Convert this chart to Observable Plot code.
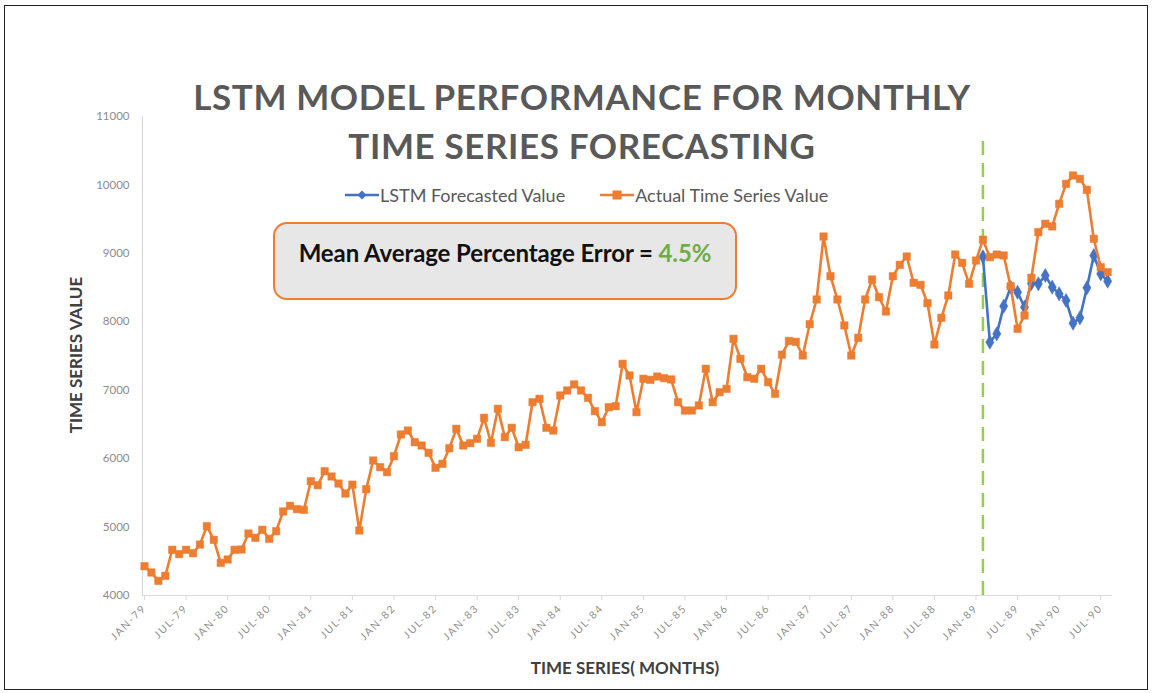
<!DOCTYPE html>
<html><head><meta charset="utf-8">
<script src="https://cdn.jsdelivr.net/npm/d3@7"></script>
<script src="https://cdn.jsdelivr.net/npm/@observablehq/plot@0.6"></script>
<style>
body{margin:0;background:#fff;font-family:Lato,"Open Sans",sans-serif;}
#wrap{position:relative;width:1154px;height:693px;overflow:hidden;background:#fff;}
#chart{position:absolute;left:0;top:0;}
#frame{position:absolute;left:4px;top:5px;width:1144px;height:685px;border:1.5px solid #222;box-sizing:border-box;pointer-events:none;}
#title{position:absolute;left:0;width:1164px;top:72px;text-align:center;font:700 35px/49px Lato,sans-serif;color:#595959;letter-spacing:0.6px;}
#legend{position:absolute;top:184px;left:345px;font:400 18px Lato,sans-serif;color:#595959;display:flex;align-items:center;white-space:nowrap;}
#legend .item{display:flex;align-items:center;margin-right:35px;}
#legend svg{margin-right:1px;}
#box{position:absolute;left:273px;top:222px;width:464px;height:78px;box-sizing:border-box;border:2px solid #ED7D31;border-radius:14px;background:#e8e7e7;text-align:center;font:700 24px Lato,sans-serif;color:#111;padding-top:14px;letter-spacing:-0.1px;}
#box span{color:#70AD47;}
#ytitle{position:absolute;left:75px;top:355px;transform:translate(-50%,-50%) rotate(-90deg);font:700 17px Lato,sans-serif;color:#404040;white-space:nowrap;}
#xtitle{position:absolute;left:625px;top:667px;transform:translate(-50%,-50%);font:700 17px Lato,sans-serif;color:#404040;white-space:nowrap;}
g[aria-label="x-axis tick label"] text{letter-spacing:1.6px;}
</style>
</head><body>
<div id="wrap">
  <div id="chart"></div>
  <div id="title">LSTM MODEL PERFORMANCE FOR MONTHLY<br>TIME SERIES FORECASTING</div>
  <div id="legend"></div>
  <div id="box">Mean Average Percentage Error = <span>4.5%</span></div>
  <div id="ytitle">TIME SERIES VALUE</div>
  <div id="xtitle">TIME SERIES( MONTHS)</div>
  <div id="frame"></div>
</div>
<script>
// ---- data ----
const monthNames = ["JAN","FEB","MAR","APR","MAY","JUN","JUL","AUG","SEP","OCT","NOV","DEC"];
const startYear = 79; // JAN-79 is month index 0
const actualValues = [
  4428,4336,4214,4287,4668,4604,4668,4618,4745,5013,4814,4477,
  4526,4668,4672,4906,4843,4960,4828,4940,5228,5311,5262,5252,
  5670,5612,5816,5739,5636,5490,5620,4950,5554,5973,5875,5802,
  6036,6353,6411,6240,6192,6085,5866,5924,6153,6436,6192,6226,
  6290,6597,6231,6728,6314,6451,6167,6202,6825,6874,6451,6411,
  6923,6996,7085,6996,6889,6694,6533,6752,6767,7386,7215,6679,
  7167,7152,7200,7176,7157,6825,6703,6703,6777,7313,6825,6971,
  7020,7751,7459,7190,7167,7313,7118,6947,7520,7720,7707,7507,
  7965,8326,9246,8666,8326,7946,7507,7766,8326,8618,8359,8150,
  8666,8832,8954,8570,8540,8272,7668,8058,8384,8983,8862,8555,
  8895,9200,8944,8983,8969,8520,7897,8092,8643,9310,9432,9393,
  9724,10016,10138,10089,9929,9213,8798,8725
];
const forecastStart = 121; // FEB-89
const forecastValues = [
  8950,7702,7824,8228,8506,8432,8213,8560,8555,8676,8506,8409,
  8311,7980,8058,8496,8969,8701,8593
];
const yTicks = [4000,5000,6000,7000,8000,9000,10000,11000];
const xTickStep = 6;
const splitTop = 10720;
const seriesNames = ["LSTM Forecasted Value","Actual Time Series Value"];
const colors = {forecast:"#4472C4", actual:"#ED7D31", split:"#92D050"};

// ---- tables ----
const actual = actualValues.map((v,i)=>({m:i, v}));
const forecast = forecastValues.map((v,i)=>({m:forecastStart+i, v}));
const xTicks = d3.range(0, actualValues.length, xTickStep);
const fmtMonth = i => monthNames[i%12] + "-" + String(startYear + Math.floor(i/12)).padStart(2,"0");
const xDomain = [-0.29, actualValues.length - 0.3];

const chart = Plot.plot({
  width:1154, height:693,
  marginLeft:142, marginRight:42, marginTop:116, marginBottom:98,
  x:{type:"linear", domain:xDomain},
  y:{domain:[yTicks[0], yTicks[yTicks.length-1]]},
  style:{background:"transparent", fontFamily:"Lato, sans-serif"},
  marks:[
    Plot.ruleY([yTicks[0]], {stroke:"#d9d9d9", strokeWidth:1.2}),
    Plot.ruleX([xDomain[0]], {stroke:"#d9d9d9", strokeWidth:1.2}),
    Plot.axisX({ticks:xTicks, tickFormat:fmtMonth, tickRotate:-45, tickSize:5, tickPadding:6, stroke:"#d9d9d9", fill:"#8f8f8f", fontSize:10.5, label:null}),
    Plot.axisY({ticks:yTicks, tickFormat:d=>String(d), tickSize:0, tickPadding:13, fill:"#8c8c8c", fontSize:11.5, label:null}),
    Plot.ruleX([forecastStart], {y1:yTicks[0], y2:splitTop, stroke:colors.split, strokeWidth:2.5, strokeDasharray:"14,8"}),
    Plot.line(forecast, {x:"m", y:"v", stroke:colors.forecast, strokeWidth:2.6}),
    Plot.dot(forecast, {x:"m", y:"v", symbol:"diamond", r:4.3, fill:colors.forecast, stroke:colors.forecast, strokeWidth:0.5}),
    Plot.line(actual, {x:"m", y:"v", stroke:colors.actual, strokeWidth:2.6}),
    Plot.dot(actual, {x:"m", y:"v", symbol:"square", r:4.2, fill:colors.actual, stroke:colors.actual, strokeWidth:0.5})
  ]
});
document.getElementById("chart").appendChild(chart);

// ---- legend ----
const legend = document.getElementById("legend");
[[seriesNames[0], colors.forecast, "diamond"],[seriesNames[1], colors.actual, "square"]].forEach(([name,c,sym])=>{
  const item = document.createElement("div"); item.className="item";
  const marker = sym==="diamond"
    ? `<path d="M17,3.5 L21.5,8 L17,12.5 L12.5,8 Z" fill="${c}"/>`
    : `<rect x="12.5" y="3.5" width="9" height="9" fill="${c}"/>`;
  item.innerHTML = `<svg width="34" height="16"><line x1="0" y1="8" x2="34" y2="8" stroke="${c}" stroke-width="2.6"/>${marker}</svg><span>${name}</span>`;
  legend.appendChild(item);
});
</script>
</body></html>
